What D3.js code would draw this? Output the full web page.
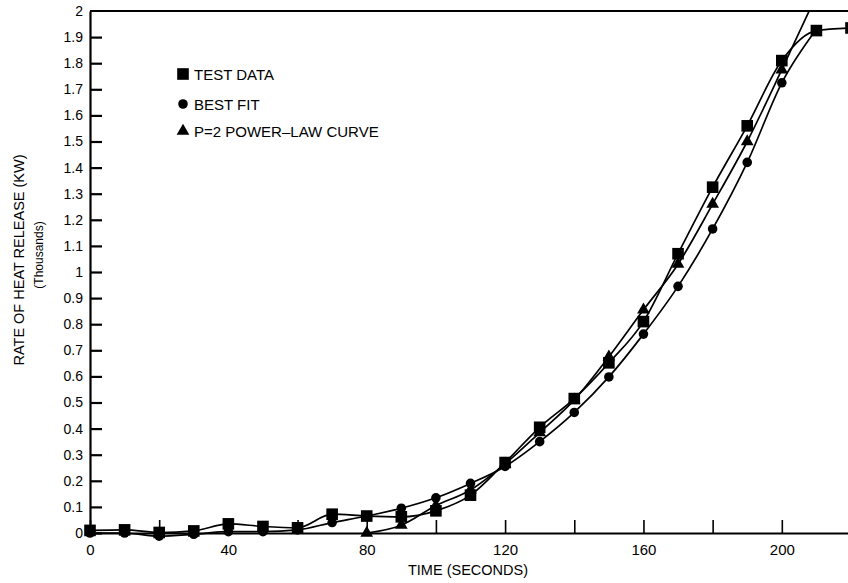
<!DOCTYPE html>
<html>
<head>
<meta charset="utf-8">
<script src="https://cdn.jsdelivr.net/npm/d3@7"></script>
<style>
  html, body { margin: 0; padding: 0; background: #fff; }
  svg { display: block; font-family: "Liberation Sans", Arial, sans-serif; }
</style>
</head>
<body>
<svg id="chart" width="848" height="583"></svg>
<script>
// ---- data ----
const times = [0,10,20,30,40,50,60,70,80,90,100,110,120,130,140,150,160,170,180,190,200,210,220];
const testData = [0.01,0.012,0.002,0.008,0.035,0.025,0.02,0.072,0.065,0.062,0.085,0.145,0.27,0.405,0.515,0.652,0.81,1.07,1.325,1.56,1.81,1.925,1.935];
const bestFit  = [0.0,0.0,-0.012,-0.005,0.005,0.005,0.012,0.04,0.065,0.095,0.135,0.19,0.255,0.35,0.462,0.598,0.762,0.945,1.165,1.42,1.725,1.93,null];
const powerLaw = [null,null,null,null,null,null,null,null,0.0,0.03,0.105,0.165,0.265,0.385,0.51,0.675,0.855,1.03,1.26,1.5,1.775,2.06,null];
const fitTailTime = 210; // fitted curves continue to here without a marker
const xTickValues = [0,20,40,60,80,100,120,140,160,180,200,220];
const xTickLabels = {0:"0",40:"40",80:"80",120:"120",160:"160",200:"200"};
const yTickValues = [0,0.1,0.2,0.3,0.4,0.5,0.6,0.7,0.8,0.9,1,1.1,1.2,1.3,1.4,1.5,1.6,1.7,1.8,1.9,2];
const yTickLabels = ["0","0.1","0.2","0.3","0.4","0.5","0.6","0.7","0.8","0.9","1","1.1","1.2","1.3","1.4","1.5","1.6","1.7","1.8","1.9","2"];
const legendItems = [
  {label:"TEST DATA", shape:"square"},
  {label:"BEST FIT", shape:"circle"},
  {label:"P=2 POWER\u2013LAW CURVE", shape:"triangle"}
];

// ---- layout ----
const svg = d3.select("#chart");
const pLeft = 90, pRight = 851, pTop = 11, pBottom = 533;
const x = d3.scaleLinear().domain([0,220]).range([pLeft,pRight]);
const y = d3.scaleLinear().domain([0,2]).range([pBottom,pTop]);

svg.append("defs").append("clipPath").attr("id","plotclip")
  .append("rect").attr("x",pLeft).attr("y",pTop).attr("width",pRight-pLeft+10).attr("height",pBottom-pTop+20);

// axes
const xAxis = d3.axisBottom(x).tickValues(xTickValues).tickSizeInner(-13).tickSizeOuter(0)
  .tickFormat(d => xTickLabels[d] || "");
const gx = svg.append("g").attr("transform",`translate(0,${pBottom})`).call(xAxis);
gx.select(".domain").attr("stroke","#000").attr("stroke-width",2.2);
gx.selectAll(".tick line").attr("stroke","#000").attr("stroke-width",1.6);
gx.selectAll(".tick text").attr("font-size",15).attr("fill","#000").attr("y",11)
  .attr("font-family","'Liberation Sans', Arial, sans-serif");

const yAxis = d3.axisLeft(y).tickValues(yTickValues).tickSizeInner(-12).tickSizeOuter(0)
  .tickFormat((d,i) => yTickLabels[i]);
const gy = svg.append("g").attr("transform",`translate(${pLeft},0)`).call(yAxis);
gy.select(".domain").attr("stroke","#000").attr("stroke-width",2.2);
gy.selectAll(".tick line").attr("stroke","#000").attr("stroke-width",2.2);
gy.selectAll(".tick text").attr("font-size",14).attr("fill","#000").attr("x",-7)
  .attr("font-family","'Liberation Sans', Arial, sans-serif");
gy.selectAll(".tick").filter(d => d === 2).select("line").remove();

// top border
svg.append("line").attr("x1",pLeft).attr("x2",848).attr("y1",y(2)).attr("y2",y(2))
  .attr("stroke","#000").attr("stroke-width",2);

// axis titles
svg.append("text").attr("transform","translate(468,575)").attr("text-anchor","middle")
  .attr("font-size",14.5).text("TIME (SECONDS)");
svg.append("text").attr("transform","translate(24,260) rotate(-90)").attr("text-anchor","middle")
  .attr("font-size",14.5).text("RATE OF HEAT RELEASE (KW)");
svg.append("text").attr("transform","translate(43,255) rotate(-90)").attr("text-anchor","middle")
  .attr("font-size",12).text("(Thousands)");

// series
function pts(vals){ return times.map((t,i)=>({t, v: vals[i]})).filter(d => d.v !== null); }
const line = d3.line().x(d=>x(d.t)).y(d=>y(d.v)).curve(d3.curveMonotoneX);
const plot = svg.append("g").attr("clip-path","url(#plotclip)");
const series = [
  {vals: testData, shape:"square", tail:false},
  {vals: bestFit, shape:"circle", tail:true},
  {vals: powerLaw, shape:"triangle", tail:true}
];
series.forEach(s => {
  plot.append("path").datum(pts(s.vals)).attr("d",line)
    .attr("fill","none").attr("stroke","#000").attr("stroke-width",1.7);
});
const sym = {
  square: d3.symbol().type(d3.symbolSquare).size(135),
  circle: d3.symbol().type(d3.symbolCircle).size(72),
  triangle: d3.symbol().type(d3.symbolTriangle).size(70)
};
series.forEach(s => {
  const data = pts(s.vals).filter(d => !(s.tail && d.t >= fitTailTime));
  svg.append("g").selectAll("path").data(data).join("path")
    .attr("transform", d => `translate(${x(d.t)},${y(d.v)})`)
    .attr("d", sym[s.shape]()).attr("fill","#000");
});

// legend
const lg = svg.append("g");
legendItems.forEach((it,i) => {
  const cy = [74,104,131][i];
  lg.append("path").attr("transform",`translate(183,${cy})`).attr("d", sym[it.shape]()).attr("fill","#000");
  lg.append("text").attr("x",194).attr("y",cy+5.5).attr("font-size",15).text(it.label);
});
</script>
</body>
</html>
